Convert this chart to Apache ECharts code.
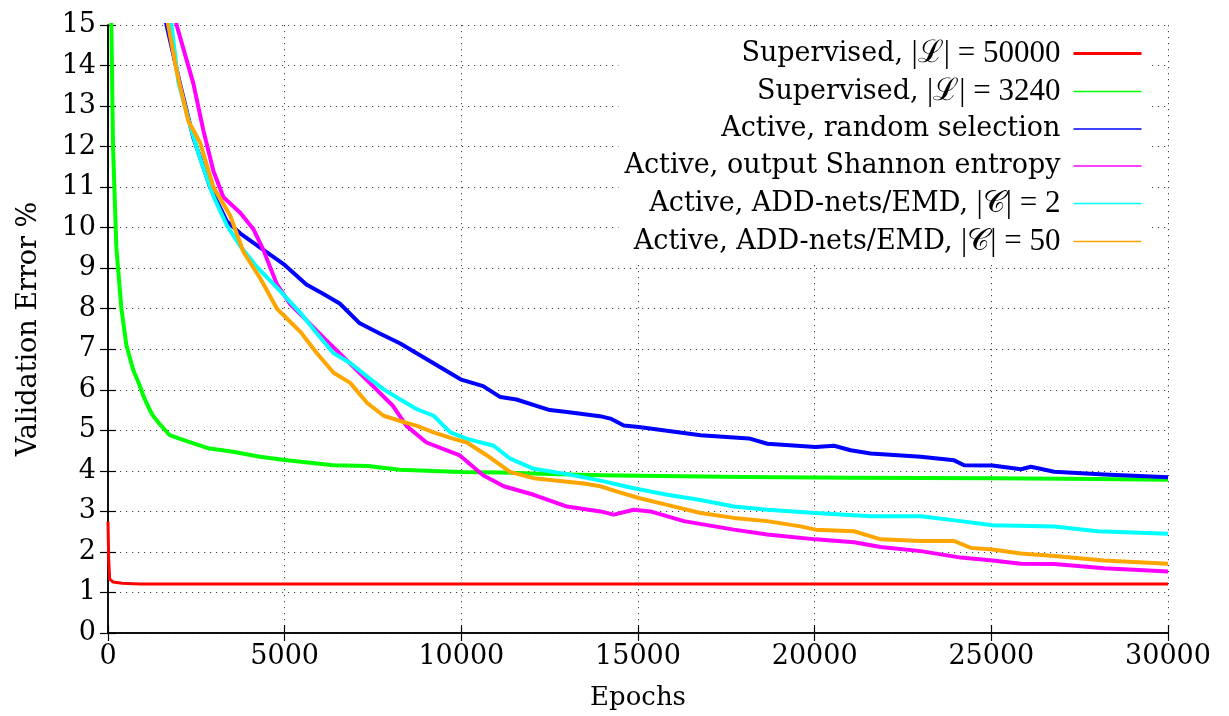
<!DOCTYPE html>
<html>
<head>
<meta charset="utf-8">
<script src="https://cdn.jsdelivr.net/npm/echarts@6/dist/echarts.min.js"></script>
<style>
html,body{margin:0;padding:0;background:#fff;}
#chart{width:1229px;height:716px;}
</style>
</head>
<body>
<div id="chart"></div>
<script>
// ---- data (epoch, validation error %) ----
const xTicks = [0, 5000, 10000, 15000, 20000, 25000, 30000];
const yTicks = [0,1,2,3,4,5,6,7,8,9,10,11,12,13,14,15];

const seriesNames = [
  'Supervised, |L| = 50000',
  'Supervised, |L| = 3240',
  'Active, random selection',
  'Active, output Shannon entropy',
  'Active, ADD-nets/EMD, |C| = 2',
  'Active, ADD-nets/EMD, |C| = 50'
];
const legendLabels = [
  ['Supervised, ', '|ℒ| = 50000'],
  ['Supervised, ', '|ℒ| = 3240'],
  ['Active, random selection', ''],
  ['Active, output Shannon entropy', ''],
  ['Active, ADD-nets/EMD, ', '|𝒞| = 2'],
  ['Active, ADD-nets/EMD, ', '|𝒞| = 50']
];

const supervised50000 = [[0,2.75],[20,1.8],[47,1.33],[140,1.26],[400,1.23],[900,1.21],[2000,1.21],[30000,1.21]];

const supervised3240 = [[60,17],[95,15],[142,12.0],[237,9.5],[379,8.0],[521,7.1],[710,6.5],[900,6.1],[1000,5.85],[1184,5.5],[1274,5.36],[1468,5.15],[1745,4.88],[2000,4.8],[2311,4.71],[2877,4.55],[3538,4.47],[4300,4.35],[5000,4.27],[6368,4.14],[7360,4.12],[8255,4.03],[10000,3.97],[11105,3.96],[12500,3.92],[13940,3.89],[15000,3.88],[18000,3.85],[21018,3.83],[25070,3.82],[28000,3.8],[30000,3.78]];

const activeRandom = [[1300,16.5],[1657,15],[2036,13.56],[2415,12.22],[2888,11.0],[3362,10.16],[3741,9.86],[4306,9.51],[5000,9.08],[5614,8.6],[6086,8.37],[6558,8.13],[7125,7.64],[7691,7.39],[8258,7.15],[9202,6.66],[10000,6.25],[10616,6.09],[11105,5.82],[11560,5.76],[12504,5.5],[12993,5.45],[13920,5.35],[14220,5.29],[14598,5.12],[15022,5.08],[16770,4.88],[18139,4.8],[18659,4.67],[20028,4.59],[20547,4.62],[21018,4.51],[21586,4.43],[23003,4.35],[23947,4.26],[24230,4.14],[25033,4.13],[25836,4.04],[26119,4.1],[26780,3.98],[28196,3.91],[30000,3.84]];

const activeEntropy = [[1650,16.5],[1941,15],[2415,13.56],[2699,12.4],[2983,11.4],[3267,10.75],[3741,10.37],[4119,9.96],[4403,9.44],[4782,8.6],[5161,8.11],[5634,7.7],[6108,7.28],[6558,6.9],[7313,6.25],[8069,5.6],[8447,5.11],[9013,4.7],[9958,4.38],[10616,3.89],[11200,3.62],[12049,3.41],[12993,3.12],[13937,3.0],[14314,2.92],[14881,3.04],[15353,3.0],[16297,2.76],[17713,2.55],[18657,2.43],[20028,2.31],[21114,2.24],[21869,2.12],[23003,2.02],[24136,1.86],[25033,1.79],[25836,1.71],[26780,1.7],[28196,1.6],[30000,1.52]];

const activeAddC2 = [[1500,16.8],[1799,15],[1988,13.6],[2320,12.53],[2604,11.71],[2983,10.78],[3362,10.06],[3741,9.55],[4214,9.03],[4782,8.52],[5445,7.9],[5912,7.39],[6384,6.9],[6856,6.66],[7328,6.33],[7800,6.01],[8272,5.76],[8744,5.52],[9216,5.36],[9688,4.95],[10161,4.79],[10916,4.62],[11388,4.3],[12049,4.05],[12993,3.92],[13937,3.76],[14881,3.57],[15825,3.41],[16769,3.28],[17713,3.12],[18657,3.04],[20028,2.96],[21586,2.88],[23003,2.88],[24136,2.76],[25033,2.66],[26780,2.63],[28008,2.51],[30000,2.45]];

const activeAddC50 = [[1400,17],[1704,15],[1941,13.87],[2273,12.63],[2604,12.1],[2983,11.0],[3456,10.3],[3835,9.4],[4309,8.75],[4782,8.0],[5445,7.43],[5912,6.9],[6384,6.42],[6856,6.17],[7328,5.68],[7800,5.36],[8272,5.23],[8744,5.11],[9216,4.95],[9783,4.79],[10161,4.7],[10727,4.38],[11388,3.97],[12049,3.82],[12993,3.73],[13465,3.69],[13937,3.62],[14409,3.49],[15022,3.33],[15825,3.16],[16769,2.96],[17713,2.84],[18657,2.76],[19601,2.63],[20028,2.55],[21114,2.51],[21869,2.31],[23003,2.27],[23947,2.27],[24419,2.1],[25033,2.06],[25836,1.96],[26780,1.9],[28196,1.79],[30000,1.71]];

const allData = [supervised50000, supervised3240, activeRandom, activeEntropy, activeAddC2, activeAddC50];
const colors = ['#ff0000', '#00ff00', '#0000ff', '#ff00ff', '#00ffff', '#ffa500'];
const bandWidths = [3, 4, 4, 4, 4, 4];
const legendWidths = [3, 1.3, 1.3, 1.3, 1.3, 1.3];

// ---- chart ----
const chart = echarts.init(document.getElementById('chart'));
const serif = 'DejaVu Serif';
const mathFont = 'Liberation Serif';
const gridLine = { show: true, lineStyle: { color: '#444', width: 1, type: [1.2, 4.8] } };
const frame = { show: true, lineStyle: { color: '#000', width: 1.5 } };

const option = {
  animation: false,
  backgroundColor: '#fff',
  grid: { left: 108, right: 61, top: 25, bottom: 77, containLabel: false },
  legend: {
    orient: 'vertical',
    right: 77,
    top: 30,
    align: 'right',
    padding: [8, 9, 6, 6],
    backgroundColor: '#fff',
    itemWidth: 68,
    itemHeight: 10,
    itemGap: 7,
    itemStyle: { color: 'transparent', borderColor: 'transparent', borderWidth: 0, opacity: 0 },
    data: seriesNames.map((n, i) => ({ name: n, lineStyle: { width: legendWidths[i], opacity: 1 } })),
    formatter: function (name) {
      const i = seriesNames.indexOf(name);
      const l = legendLabels[i];
      return '{t|' + l[0] + '}' + (l[1] ? '{m|' + l[1] + '}' : '') + '{g|}';
    },
    textStyle: {
      fontFamily: serif, fontSize: 27, color: '#000',
      rich: {
        t: { fontFamily: serif, fontSize: 27, color: '#000', lineHeight: 30, height: 30 },
        m: { fontFamily: mathFont, fontSize: 31, color: '#000', lineHeight: 30, height: 30 },
        g: { width: 8, height: 30, lineHeight: 30 }
      }
    }
  },
  xAxis: [{
    type: 'value', min: 0, max: 30000, interval: 5000,
    name: 'Epochs', nameLocation: 'middle', nameGap: 52,
    nameTextStyle: { fontFamily: serif, fontSize: 26, color: '#000' },
    axisLine: frame,
    axisTick: { show: true, inside: true, length: 8, lineStyle: { color: '#000', width: 1.2 } },
    axisLabel: { fontFamily: serif, fontSize: 27, color: '#000', margin: 10,
      formatter: v => String(xTicks.includes(v) ? v : '') },
    splitLine: gridLine
  }, {
    type: 'value', min: 0, max: 30000, interval: 5000, position: 'top',
    axisLine: frame,
    axisTick: { show: true, inside: true, length: 8, lineStyle: { color: '#000', width: 1.2 } },
    axisLabel: { show: false }, splitLine: { show: false }
  }],
  yAxis: [{
    type: 'value', min: 0, max: 15, interval: 1,
    name: 'Validation Error %', nameLocation: 'middle', nameGap: 66, nameRotate: 90,
    nameTextStyle: { fontFamily: serif, fontSize: 27, color: '#000' },
    axisLine: frame,
    axisTick: { show: true, inside: true, length: 8, lineStyle: { color: '#000', width: 1.2 } },
    axisLabel: { fontFamily: serif, fontSize: 27, color: '#000', margin: 12,
      formatter: v => String(yTicks.includes(v) ? v : '') },
    splitLine: gridLine
  }, {
    type: 'value', min: 0, max: 15, interval: 1, position: 'right',
    axisLine: frame,
    axisTick: { show: true, inside: true, length: 8, lineStyle: { color: '#000', width: 1.2 } },
    axisLabel: { show: false }, splitLine: { show: false }
  }],
  series: seriesNames.map((n, i) => ({
    name: n,
    type: 'line',
    data: allData[i],
    symbol: 'none',
    showSymbol: false,
    clip: true,
    color: colors[i],
    lineStyle: { color: colors[i], width: bandWidths[i], join: 'round' },
    z: 2 + i
  }))
};
chart.setOption(option);
</script>
</body>
</html>
